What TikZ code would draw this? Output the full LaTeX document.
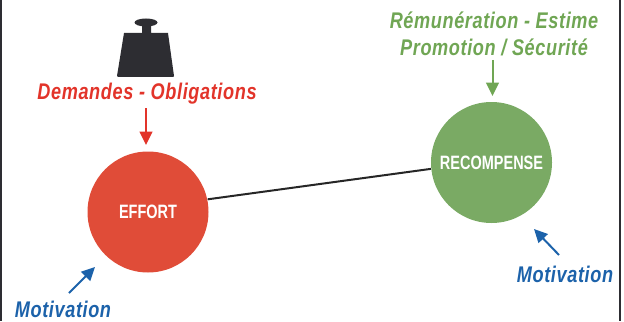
\documentclass[tikz,border=0pt]{standalone}
\usepackage{fontspec}
\setmainfont{Liberation Sans}
\newfontfamily\narrowfont[FakeStretch=0.75]{Liberation Sans}
\newfontfamily\captionfont[FakeStretch=0.8,LetterSpace=2.7]{Liberation Sans}
\usetikzlibrary{arrows.meta}
\definecolor{effortred}{RGB}{224,76,56}
\definecolor{labelred}{RGB}{226,52,42}
\definecolor{rewardgreen}{RGB}{122,170,100}
\definecolor{labelgreen}{RGB}{112,166,84}
\definecolor{motivblue}{RGB}{28,98,170}
\definecolor{weightgrey}{RGB}{45,45,50}
\tikzset{every picture/.style={line width=0.75pt}}
\tikzset{
	bubble/.style={circle,minimum size=90.75pt,inner sep=0pt,text=white,font=\narrowfont\bfseries\fontsize{14.5}{16}\selectfont},
	caption/.style={inner sep=0pt,font=\captionfont\bfseries\itshape\fontsize{17}{20}\selectfont},
	pointer/.style={line width=1.5pt,-{Triangle[length=10pt,width=9.5pt]}}
}

\begin{document}
\begin{tikzpicture}[x=0.75pt,y=0.75pt,yscale=-1,xscale=1]
	\useasboundingbox (0,0) rectangle (624,321);
	
	%Frame sides
	\draw [line width=1.5pt,color=weightgrey]  (1,0) -- (1,321) ;
	\draw [line width=1pt,color=weightgrey]  (620,0) -- (620,321) ;
	
	%Weight
	\fill [color=weightgrey]  (124,33) -- (142,33) -- (142,25) -- (151,25) -- (151,33) -- (168,33) -- (174,76) -- (173,77) -- (118,77) -- (117,76) -- cycle ;
	\fill [color=weightgrey]  (146,22.5) ellipse (11.5 and 4) ;
	
	%Circles
	\node [bubble,fill=effortred] (effort) at (148,212) {EFFORT};
	\node [bubble,fill=rewardgreen] (recompense) at (491.5,162.5) {\raisebox{-2pt}{RECOMPENSE}};
	
	%Labels
	\node [caption,text=labelred] (demandes) at (147,94) {Demandes - Obligations};
	\node [caption,text=labelgreen] (remuneration) at (494,20) {Rémunération - Estime};
	\node [caption,text=labelgreen] (promotion) at (494,47) {Promotion / Sécurité};
	\node [caption,text=motivblue] (motivleft) at (63,309) {Motivation};
	\node [caption,text=motivblue] (motivright) at (565,274) {Motivation};
	
	%Free ends of the arrows
	\coordinate (redstart) at (146,108);
	\coordinate (redend) at (146,145);
	\coordinate (greenstart) at (492.5,60);
	\coordinate (greenend) at (492.5,96);
	\coordinate (blueleftstart) at (69,293);
	\coordinate (blueleftend) at (95,267);
	\coordinate (bluerightstart) at (559,255);
	\coordinate (bluerightend) at (534,229);
	
	%Connector
	\draw [line width=1.5pt,color=black!85]  (effort.12) -- (recompense.186) ;
	
	%Arrows
	\draw [pointer,color=labelred]  (redstart) -- (redend) ;
	\draw [pointer,color=labelgreen]  (greenstart) -- (greenend) ;
	\draw [pointer,color=motivblue]  (blueleftstart) -- (blueleftend) ;
	\draw [pointer,color=motivblue]  (bluerightstart) -- (bluerightend) ;
	
\end{tikzpicture}
\end{document}
